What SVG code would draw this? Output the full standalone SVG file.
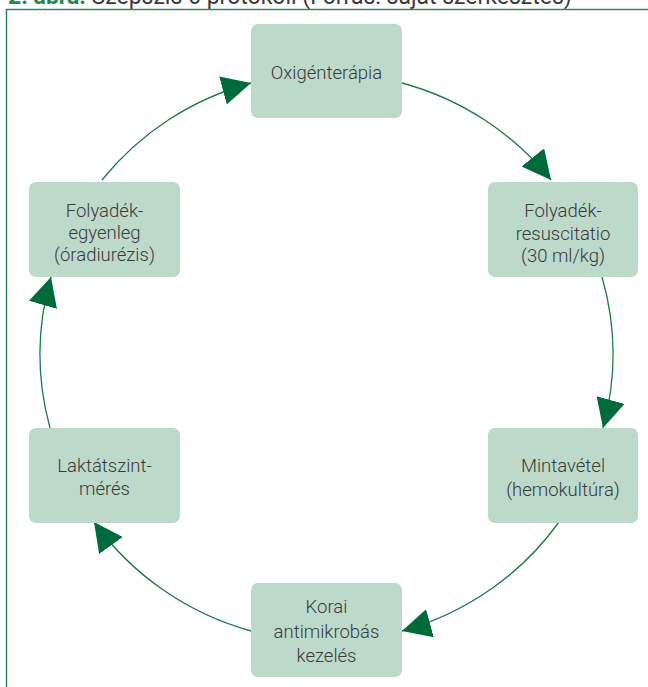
<svg xmlns="http://www.w3.org/2000/svg" width="648" height="687" viewBox="0 0 648 687">
<style>
.box{fill:#bcd9ca;}
.lbl{font-family:Roboto,"Liberation Sans",sans-serif;font-weight:300;font-size:18.5px;fill:#3a3a3a;text-anchor:middle;}
.conn{fill:none;stroke:#1b7a48;stroke-width:1.3;}
</style>
<defs>
<marker id="ah" markerUnits="userSpaceOnUse" markerWidth="30" markerHeight="30" refX="29" refY="14.5" orient="auto">
<path d="M0,0 L29,14.5 L0,29 z" fill="#006b3a"/>
</marker>
</defs>
<rect width="648" height="687" fill="#ffffff"/>
<text x="8" y="4" font-family="Roboto,'Liberation Sans',sans-serif" font-size="23"><tspan font-weight="700" fill="#1f8a4c">2. ábra.</tspan><tspan fill="#3a3a3a"> Szepszis 6 protokoll (Forrás: saját szerkesztés)</tspan></text>
<rect x="6.5" y="9.5" width="700" height="700" fill="none" stroke="#2f7f57" stroke-width="1.4"/>
<g id="connectors">
<path class="conn" d="M402,83 A287,283 0 0 1 551,180" marker-end="url(#ah)"/>
<path class="conn" d="M602,277 A287,283 0 0 1 603,428" marker-end="url(#ah)"/>
<path class="conn" d="M559,522 A287,283 0 0 1 402,631" marker-end="url(#ah)"/>
<path class="conn" d="M251,631 A287,283 0 0 1 94,522" marker-end="url(#ah)"/>
<path class="conn" d="M50,428 A287,283 0 0 1 51,277" marker-end="url(#ah)"/>
<path class="conn" d="M102,180 A287,283 0 0 1 251,83" marker-end="url(#ah)"/>
</g>
<g id="n1">
<rect class="box" x="251" y="24" width="151" height="94" rx="7"/>
<text class="lbl" x="326.5" y="79">Oxigénterápia</text>
</g>
<g id="n2">
<rect class="box" x="488" y="182" width="150" height="95" rx="7"/>
<text class="lbl" x="563" y="217">Folyadék-</text>
<text class="lbl" x="563" y="239.5">resuscitatio</text>
<text class="lbl" x="563" y="262">(30 ml/kg)</text>
</g>
<g id="n3">
<rect class="box" x="488" y="428" width="150" height="95" rx="7"/>
<text class="lbl" x="563" y="472">Mintavétel</text>
<text class="lbl" x="563" y="496">(hemokultúra)</text>
</g>
<g id="n4">
<rect class="box" x="251" y="583" width="151" height="94" rx="7"/>
<text class="lbl" x="326.5" y="612.5">Korai</text>
<text class="lbl" x="326.5" y="637.5">antimikrobás</text>
<text class="lbl" x="326.5" y="662">kezelés</text>
</g>
<g id="n5">
<rect class="box" x="29" y="428" width="151" height="95" rx="7"/>
<text class="lbl" x="104.5" y="472">Laktátszint-</text>
<text class="lbl" x="104.5" y="495">mérés</text>
</g>
<g id="n6">
<rect class="box" x="29" y="182" width="151" height="95" rx="7"/>
<text class="lbl" x="104.5" y="217">Folyadék-</text>
<text class="lbl" x="104.5" y="239">egyenleg</text>
<text class="lbl" x="104.5" y="261">(óradiurézis)</text>
</g>
</svg>
